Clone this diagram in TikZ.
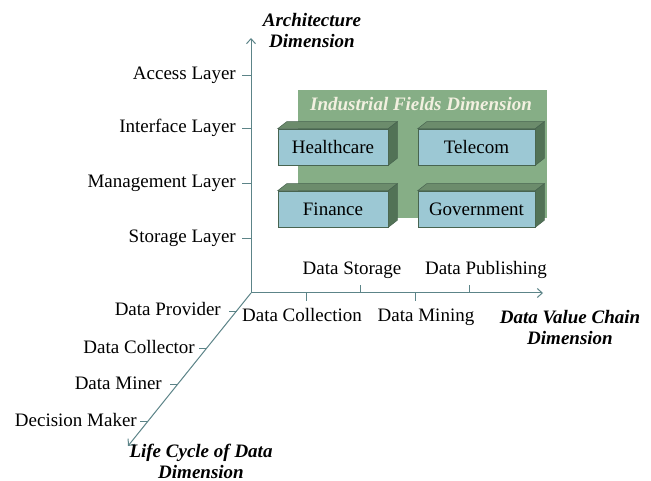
\documentclass[tikz,border=0pt]{standalone}
\usepackage{fontspec}
\setmainfont{Liberation Serif}
\usetikzlibrary{arrows.meta,calc}
\definecolor{axiscol}{RGB}{92,132,136}
\definecolor{bggreen}{RGB}{134,174,134}
\definecolor{boxfront}{RGB}{156,200,212}
\definecolor{boxtop}{RGB}{108,140,108}
\definecolor{boxside}{RGB}{82,114,86}
\definecolor{boxline}{RGB}{72,100,80}
\definecolor{titlecol}{RGB}{242,240,224}
\begin{document}
\begin{tikzpicture}[x=1pt,y=-1pt,
  lbl/.style={inner sep=0pt,font=\fontsize{19}{22}\selectfont,text height=12pt,text depth=2pt},
  dimlbl/.style={inner sep=0pt,font=\fontsize{19}{21}\selectfont\bfseries\itshape,align=center},
  axisline/.style={draw=axiscol,line width=1pt},
  tick/.style={draw=axiscol,line width=0.8pt},
  fieldbox/.style={draw=boxline,fill=boxfront,line width=0.6pt,inner sep=0pt,
    minimum height=36pt,font=\fontsize{19}{22}\selectfont},
  topface/.style={fill=boxtop,draw=boxline,line width=0.5pt},
  sideface/.style={fill=boxside,draw=boxline,line width=0.5pt}]
\useasboundingbox (0,0) rectangle (651,481);
\fill[white] (0,0) rectangle (651,481);

% axes
\coordinate (O) at (251,293);
\coordinate (ytip) at (251,38);
\coordinate (xtip) at (543,293);
\coordinate (ztip) at (128,446);
\draw[axisline,-{Straight Barb[length=5pt,width=9pt]}] (O) -- (ytip);
\draw[axisline,-{Straight Barb[length=5pt,width=9pt]}] (O) -- (xtip);
\draw[axisline,-{Straight Barb[length=5pt,width=9pt]}] (O) -- (ztip);

% green panel
\node[fill=bggreen,inner sep=0pt,minimum width=249pt,minimum height=128pt,anchor=north west] (panel) at (298,90) {};
\node[dimlbl,font=\fontsize{19}{21}\selectfont\bfseries\itshape,text=titlecol] (ptitle) at (421,104) {Industrial Fields Dimension};

% boxes
\node[fieldbox,minimum width=110pt] (hc) at (333,147) {Healthcare};
\node[fieldbox,minimum width=117pt] (tc) at (476.5,147) {Telecom};
\node[fieldbox,minimum width=110pt] (fi) at (333,209) {Finance};
\node[fieldbox,minimum width=117pt] (gv) at (476.5,209) {Government};
\foreach \b in {hc,tc,fi,gv}{
  \draw[topface] (\b.north west) -- ++(9,-7) -- ($(\b.north east)+(9,-7)$) -- (\b.north east) -- cycle;
  \draw[sideface] (\b.north east) -- ++(9,-7) -- ($(\b.south east)+(9,-7)$) -- (\b.south east) -- cycle;
}

% vertical axis ticks & labels
\foreach \y/\t/\n in {75/Access Layer/al,128/Interface Layer/il,183/Management Layer/ml,238/Storage Layer/sl}{
  \coordinate (t\n) at (251,\y);
  \draw[tick] (t\n) -- ++(-9,0);
  \node[lbl,anchor=east] (\n) at (236,\y) {\t};
}

% horizontal axis ticks & labels
\coordinate (hx1) at (306,293);
\coordinate (hx2) at (360,293);
\coordinate (hx3) at (415,293);
\coordinate (hx4) at (469,293);
\draw[tick] (hx1) -- ++(0,8);
\draw[tick] (hx3) -- ++(0,8);
\draw[tick] (hx2) -- ++(0,-8);
\draw[tick] (hx4) -- ++(0,-8);
\node[lbl] (dc) at (302,317) {Data Collection};
\node[lbl] (dm) at (426,317) {Data Mining};
\node[lbl] (ds) at (352,270) {Data Storage};
\node[lbl] (dp) at (486,270) {Data Publishing};

% diagonal axis ticks & labels
\foreach \y/\n in {311/dpr,348/dco,384/dmi,421/dma}{
  \coordinate (z\n) at ($(O)!{(\y-293)/153}!(ztip)$);
  \draw[tick] (z\n) -- ++(-8,0);
}
\node[lbl,anchor=east] (dpr) at (221,311) {Data Provider};
\node[lbl,anchor=east] (dco) at (195,348) {Data Collector};
\node[lbl,anchor=east] (dmi) at (162,384) {Data Miner};
\node[lbl,anchor=east] (dma) at (137,421) {Decision Maker};

% dimension titles
\node[dimlbl] (archdim) at (312,31) {Architecture\\Dimension};
\node[dimlbl] (vcdim) at (570,328) {Data Value Chain\\Dimension};
\node[dimlbl] (lcdim) at (201,461) {Life Cycle of Data\\Dimension};
\end{tikzpicture}
\end{document}
